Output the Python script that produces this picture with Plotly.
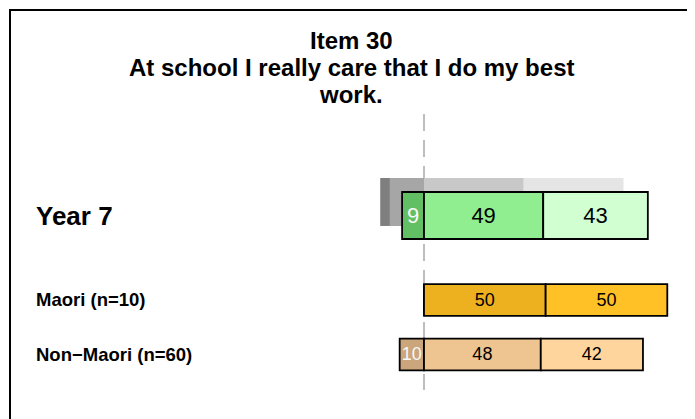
import plotly.graph_objects as go

# ---- data ----
groups = ["Year 7", "Maori (n=10)", "Non\u2212Maori (n=60)"]
disagree = [9, 0, 10]
agree = [49, 50, 48]
strongly_agree = [43, 50, 42]
# comparison (grey) bar behind Year 7
grey_labels = ["Strongly disagree", "Disagree", "Agree", "Strongly agree"]
grey_vals = [4, 14, 41, 41]

title_lines = ["Item 30", "At school I really care that I do my best", "work."]

# ---- styling / layout positions ----
W, H = 695, 419
ZERO_PX = 416          # pixel position of 0 on the x axis
PX_PER_UNIT = 2.433
ROW_PX = 54.5          # pixels per y unit
ROW0_PX = 207.5        # pixel centre of first row

row_pos = [0, 1.55, 2.55]
row_width = [0.862, 0.58, 0.58]
grey_offset = -0.248
grey_width = 0.88
text_size = [22, 18, 18]
label_size = [26, 18.5, 18.5]
title_y_px = [32, 59, 86]
TITLE_SIZE = 24

c_dis = ["#63BF63", "#EDB120", "#CBA57B"]
c_agr = ["#90EE90", "#EDB120", "#EEC591"]
c_sag = ["#D2FFD2", "#FFC125", "#FFD59E"]
grey_cols = ["#7F7F7F", "#A6A6A6", "#C8C8C8", "#E5E5E5"]

FONT = "Liberation Sans, Arial, sans-serif"

fig = go.Figure()

# grey comparison segments
neg_total = grey_vals[0] + grey_vals[1]
g_bases = [-neg_total, -grey_vals[1], 0, grey_vals[2]]
for lab, v, b, col in zip(grey_labels, grey_vals, g_bases, grey_cols):
    fig.add_trace(go.Bar(
        orientation="h", x=[v], base=[b], y=[row_pos[0] + grey_offset],
        width=[grey_width], marker=dict(color=col, line=dict(width=0)),
        name=lab, showlegend=False, hoverinfo="skip"))

line_style = dict(color="black", width=1.8)

def txt(vals):
    return [str(v) if v else "" for v in vals]

common = dict(orientation="h", y=row_pos, width=row_width,
              textposition="inside", insidetextanchor="middle",
              constraintext="none", textangle=0,
              showlegend=False, hoverinfo="skip")

fig.add_trace(go.Bar(
    x=disagree, base=[-v for v in disagree],
    marker=dict(color=c_dis, line=line_style), text=txt(disagree),
    textfont=dict(family=FONT, size=text_size, color="#F8F8F8"), **common))

fig.add_trace(go.Bar(
    x=agree, base=[0] * len(agree),
    marker=dict(color=c_agr, line=line_style), text=txt(agree),
    textfont=dict(family=FONT, size=text_size, color="black"), **common))

fig.add_trace(go.Bar(
    x=strongly_agree, base=agree,
    marker=dict(color=c_sag, line=line_style), text=txt(strongly_agree),
    textfont=dict(family=FONT, size=text_size, color="black"), **common))

# group labels
for g, p, s in zip(groups, row_pos, label_size):
    fig.add_annotation(x=26 / W, xref="paper", y=p, yref="y", text="<b>%s</b>" % g,
                       showarrow=False, xanchor="left", yanchor="middle",
                       font=dict(family=FONT, size=s, color="black"))

# title lines
for line, ypx in zip(title_lines, title_y_px):
    fig.add_annotation(x=343 / W, xref="paper", y=1 - ypx / H, yref="paper",
                       text="<b>%s</b>" % line, showarrow=False,
                       xanchor="center", yanchor="middle", borderpad=0,
                       font=dict(family=FONT, size=TITLE_SIZE, color="black"))

# zero reference line
fig.add_shape(type="line", x0=0, x1=0, xref="x", y0=1 - 106 / H, y1=1 - 382 / H,
              yref="paper", line=dict(color="#A9A9A9", width=1.5, dash="17px,9px"),
              layer="below")
# frame
fig.add_shape(type="rect", xref="paper", yref="paper", x0=2 / W, x1=683.5 / W,
              y0=-0.2, y1=1 - 2 / H, line=dict(color="black", width=2),
              fillcolor="rgba(0,0,0,0)")

fig.update_layout(
    width=W, height=H,
    margin=dict(l=0, r=0, t=0, b=0),
    paper_bgcolor="white", plot_bgcolor="white",
    barmode="overlay",
    xaxis=dict(range=[-ZERO_PX / PX_PER_UNIT, (W - ZERO_PX) / PX_PER_UNIT],
               visible=False, fixedrange=True),
    yaxis=dict(range=[(H - ROW0_PX) / ROW_PX, -ROW0_PX / ROW_PX],
               visible=False, fixedrange=True),
)

fig.write_html("out.html")
